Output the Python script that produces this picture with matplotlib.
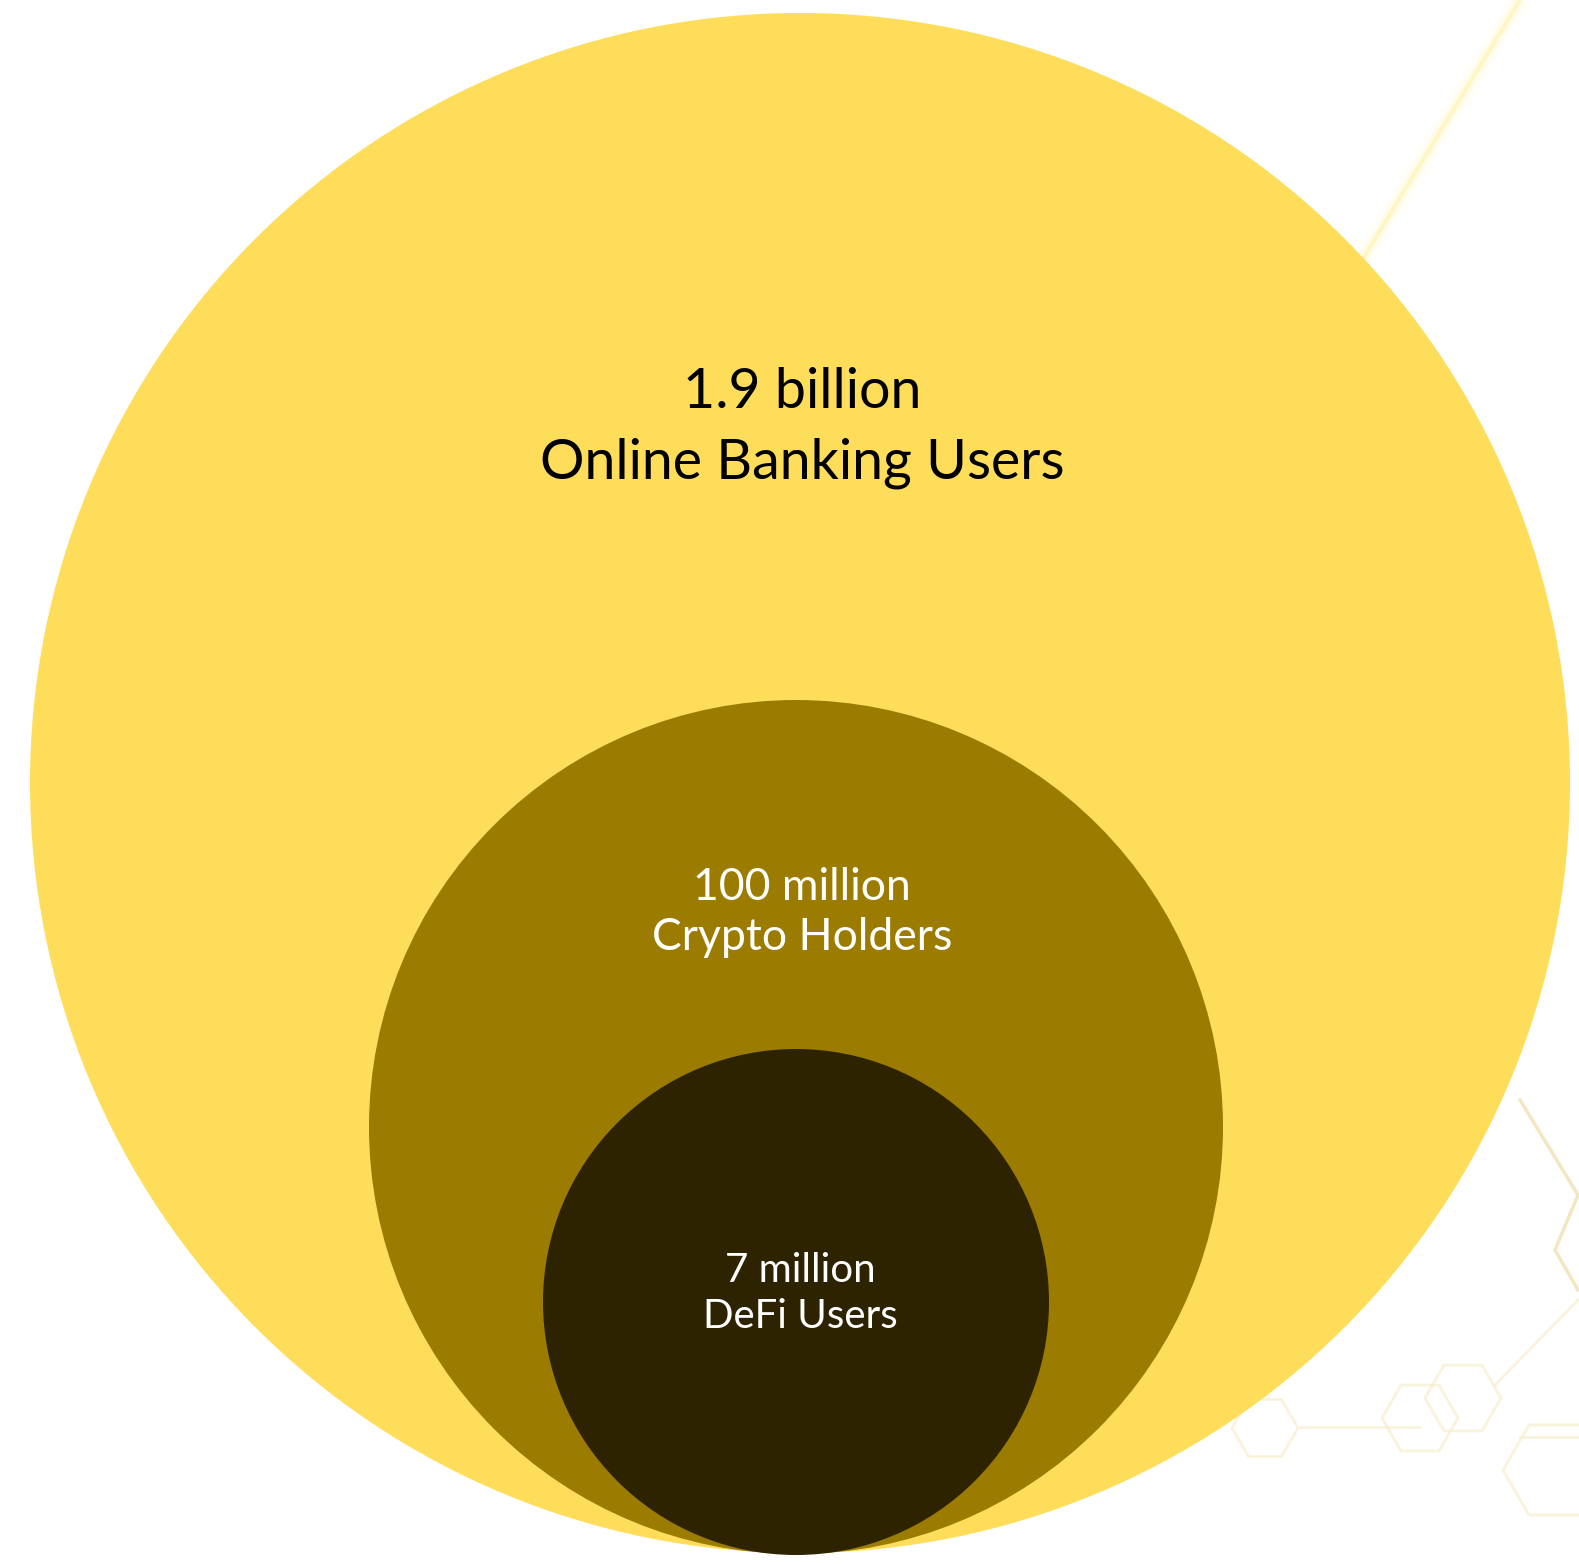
import matplotlib.pyplot as plt
from matplotlib.patches import Circle, RegularPolygon
import numpy as np

# data
labels_value = ["1.9 billion", "100 million", "7 million"]
labels_name = ["Online Banking Users", "Crypto Holders", "DeFi Users"]
colors = ["#FEDD5B", "#9C7C00", "#2E2300"]
text_colors = ["#000000", "#FFFFFF", "#FFFFFF"]

W, H = 1579, 1564
fig = plt.figure(figsize=(W / 100, H / 100), dpi=100)
ax = fig.add_axes([0, 0, 1, 1])
ax.set_xlim(0, W)
ax.set_ylim(H, 0)
ax.set_aspect("equal")
ax.axis("off")

# faint background decoration: glow line top right
for lw, a in [(14, 0.08), (8, 0.15), (3, 0.6)]:
    ax.plot([1350, 1520], [280, 0], color="#FFF3A8", lw=lw, alpha=a,
            solid_capstyle="butt", zorder=0)

# faint hexagon network bottom right
hex_color = "#F8EBC6"
for (hx, hy, hr) in [(1265, 1428, 33), (1420, 1418, 38), (1463, 1398, 38),
                     (1555, 1470, 52)]:
    ax.add_patch(RegularPolygon((hx, hy), 6, radius=hr, orientation=np.pi / 6,
                                fill=False, ec=hex_color, lw=2, alpha=0.6,
                                zorder=0))
ax.plot([1300, 1420], [1427, 1427], color=hex_color, lw=2, alpha=0.6, zorder=0)
ax.plot([1520, 1578], [1437, 1437], color=hex_color, lw=2, alpha=0.6, zorder=0)
ax.plot([1520, 1578, 1555, 1578], [1100, 1195, 1250, 1290], color="#EEDCA8",
        lw=2.5, alpha=0.7, zorder=0)
ax.plot([1578, 1495], [1300, 1385], color=hex_color, lw=2, alpha=0.6, zorder=0)

# circle layout: (cx, cy, r)
layout = [(800, 783, 770), (796, 1127, 427), (796, 1302, 253)]
text_pos = [(802, 393, 463, 40), (802, 888, 938, 32), (800, 1271, 1316, 29)]

for (cx, cy, r), c in zip(layout, colors):
    ax.add_patch(Circle((cx, cy), r, color=c, lw=0, zorder=1))

for i, (x, y1, y2, fs) in enumerate(text_pos):
    ax.text(x, y1, labels_value[i], ha="center", va="center", fontsize=fs,
            color=text_colors[i], family="Lato", zorder=3)
    ax.text(x, y2, labels_name[i], ha="center", va="center", fontsize=fs,
            color=text_colors[i], family="Lato", zorder=3)

fig.savefig("out.png", dpi=100)
